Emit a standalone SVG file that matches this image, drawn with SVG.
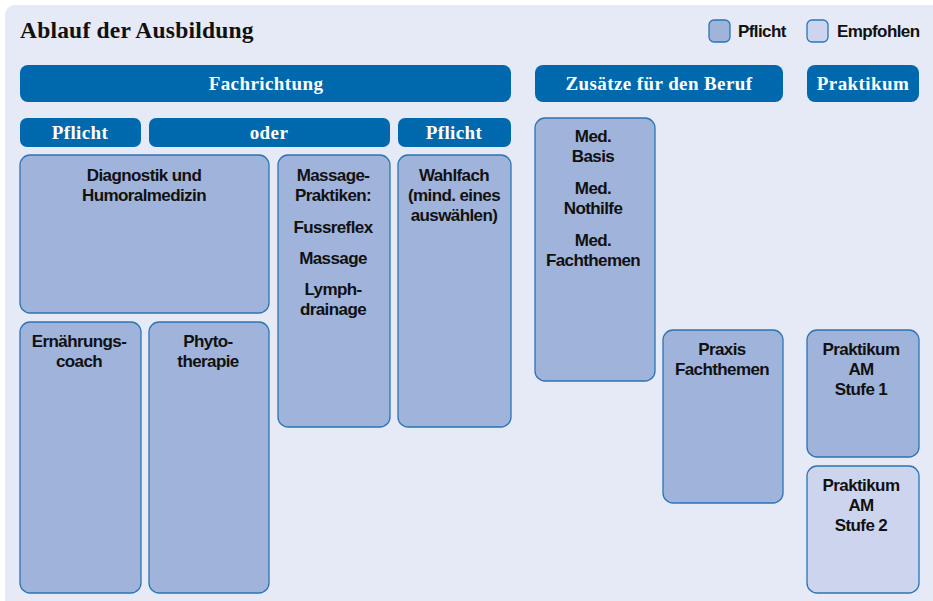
<svg xmlns="http://www.w3.org/2000/svg" width="933" height="601" viewBox="0 0 933 601">
<style>
.hdr{fill:#0068AC}
.ht{font-family:"Liberation Serif",serif;font-weight:bold;font-size:19px;fill:#fff;text-anchor:middle;letter-spacing:0.4px}
.req{fill:#A0B3DA;stroke:#2C74B4;stroke-width:1.3}
.rec{fill:#CDD5EE;stroke:#2C74B4;stroke-width:1.3}
.t{font-family:"Liberation Sans",Arial,sans-serif;font-weight:bold;font-size:17px;fill:#111;text-anchor:middle;letter-spacing:-0.6px}
.lg{font-family:"Liberation Sans",Arial,sans-serif;font-weight:bold;font-size:17px;fill:#111;letter-spacing:-0.6px}
</style>
<rect x="0" y="0" width="933" height="601" fill="#fff"/>
<rect x="5" y="5" width="940" height="610" rx="10" fill="#E6EAF6"/>
<text x="20" y="38" font-family="Liberation Serif,serif" font-weight="bold" font-size="23.5" fill="#111" letter-spacing="0.2">Ablauf der Ausbildung</text>
<g id="legend">
<rect x="709" y="20" width="21" height="22" rx="5" class="req"/>
<text x="738" y="37" class="lg">Pflicht</text>
<rect x="807" y="20" width="21" height="22" rx="5" class="rec"/>
<text x="837" y="37" class="lg">Empfohlen</text>
</g>
<g id="h-fachrichtung"><rect x="20" y="65" width="491" height="37" rx="8" class="hdr"/><text x="266" y="90" class="ht">Fachrichtung</text></g>
<g id="h-zusaetze"><rect x="535" y="65" width="248" height="37" rx="8" class="hdr"/><text x="659" y="90" class="ht">Zusätze für den Beruf</text></g>
<g id="h-praktikum"><rect x="807" y="65" width="112" height="37" rx="8" class="hdr"/><text x="863" y="90" class="ht">Praktikum</text></g>
<g id="h-pflicht1"><rect x="20" y="118" width="121" height="29" rx="7" class="hdr"/><text x="80" y="139" class="ht">Pflicht</text></g>
<g id="h-oder"><rect x="149" y="118" width="241" height="29" rx="7" class="hdr"/><text x="269" y="139" class="ht">oder</text></g>
<g id="h-pflicht2"><rect x="398" y="118" width="113" height="29" rx="7" class="hdr"/><text x="454" y="139" class="ht">Pflicht</text></g>
<g id="diagnostik"><rect x="20" y="155" width="249" height="158" rx="10" class="req"/>
<text class="t"><tspan x="144" y="181">Diagnostik und</tspan><tspan x="144" y="201">Humoralmedizin</tspan></text></g>
<g id="massage"><rect x="278" y="155" width="112" height="272" rx="10" class="req"/>
<text class="t"><tspan x="333" y="181">Massage-</tspan><tspan x="333" y="201">Praktiken:</tspan><tspan x="333" y="233">Fussreflex</tspan><tspan x="333" y="264">Massage</tspan><tspan x="333" y="295">Lymph-</tspan><tspan x="333" y="315">drainage</tspan></text></g>
<g id="wahlfach"><rect x="398" y="155" width="113" height="272" rx="10" class="req"/>
<text class="t"><tspan x="454" y="181">Wahlfach</tspan><tspan x="454" y="201">(mind. eines</tspan><tspan x="454" y="221">auswählen)</tspan></text></g>
<g id="ernaehrung"><rect x="20" y="322" width="121" height="271" rx="10" class="req"/>
<text class="t"><tspan x="79" y="347">Ernährungs-</tspan><tspan x="79" y="367">coach</tspan></text></g>
<g id="phyto"><rect x="149" y="322" width="120" height="271" rx="10" class="req"/>
<text class="t"><tspan x="208" y="347">Phyto-</tspan><tspan x="208" y="367">therapie</tspan></text></g>
<g id="med"><rect x="535" y="118" width="120" height="263" rx="10" class="req"/>
<text class="t"><tspan x="593" y="142">Med.</tspan><tspan x="593" y="162">Basis</tspan><tspan x="593" y="194">Med.</tspan><tspan x="593" y="214">Nothilfe</tspan><tspan x="593" y="246">Med.</tspan><tspan x="593" y="266">Fachthemen</tspan></text></g>
<g id="praxis"><rect x="663" y="330" width="120" height="173" rx="10" class="req"/>
<text class="t"><tspan x="722" y="355">Praxis</tspan><tspan x="722" y="375">Fachthemen</tspan></text></g>
<g id="stufe1"><rect x="807" y="330" width="112" height="127" rx="10" class="req"/>
<text class="t"><tspan x="861" y="355">Praktikum</tspan><tspan x="861" y="375">AM</tspan><tspan x="861" y="395">Stufe 1</tspan></text></g>
<g id="stufe2"><rect x="807" y="466" width="112" height="127" rx="10" class="rec"/>
<text class="t"><tspan x="861" y="491">Praktikum</tspan><tspan x="861" y="511">AM</tspan><tspan x="861" y="531">Stufe 2</tspan></text></g>
<g id="connectors"></g>
</svg>
